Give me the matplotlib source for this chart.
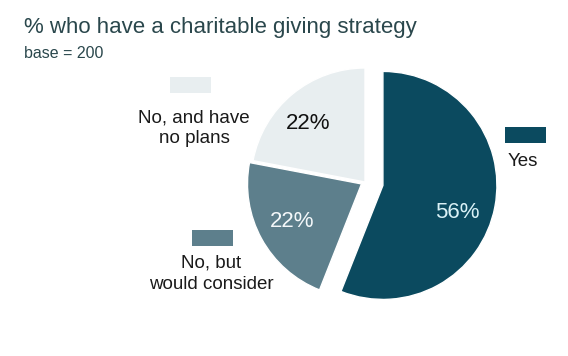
#!/usr/bin/env python3
"""Charitable giving strategy pie chart."""

import matplotlib
matplotlib.use('Agg')
import matplotlib.pyplot as plt
from matplotlib.patches import Rectangle

# data
categories = ['Yes', 'No, but\nwould consider', 'No, and have\nno plans']
shares = [56, 22, 22]
colors = ['#0b4a5f', '#5d7f8c', '#e8eef0']
pct_colors = ['#d9f1f6', '#f4f8fa', '#111111']

W, H = 568, 356


def px(x, y):
    """pixel (from top-left) -> figure fraction"""
    return x / W, 1 - y / H


plt.rcParams['font.family'] = ['Liberation Sans', 'DejaVu Sans']
fig = plt.figure(figsize=(W / 100, H / 100), dpi=100)

# axes covering the whole figure, 1 data unit = pie radius (114 px)
cx, cy, r = 365, 182, 114
ax = fig.add_axes([0, 0, 1, 1])

wedges, texts, autotexts = ax.pie(
    shares, colors=colors, startangle=90, counterclock=False,
    explode=[0.16, 0.035, 0.0], radius=1, center=(0, 0),
    autopct='%d%%', pctdistance=0.69,
    wedgeprops=dict(edgecolor='white', linewidth=1),
    textprops=dict(fontsize=16))
# small nudges (px) so the percentages sit where the original has them
nudges = [(-3, 12), (0, 0), (-7, 2)]
for t, c, (dx, dy) in zip(autotexts, pct_colors, nudges):
    t.set_color(c)
    x, y = t.get_position()
    t.set_position((x + dx / r, y - dy / r))
ax.set_xlim(-cx / r, (W - cx) / r)
ax.set_ylim(-(H - cy) / r, cy / r)
ax.set_aspect('equal')
ax.axis('off')

# title
fig.text(*px(24, 33), '% who have a charitable giving strategy', fontsize=16,
         color='#2a474c', va='baseline', ha='left')
fig.text(*px(24, 58), 'base = 200', fontsize=11.5,
         color='#2a474c', va='baseline', ha='left')

# label keys (box + text) as in the original data labels
keys = [
    # (box x0, box y0, text centre x, first baseline y)
    (505, 127, 523, 166),   # Yes
    (192, 230, 211, 268),   # No, but would consider
    (170, 77, 194, 122),    # No, and have no plans
]
for (bx, by, tx, ty), label, col in zip(keys, categories, colors):
    x0, y1 = px(bx, by + 16)
    fig.patches.append(Rectangle((x0, y1), 41 / W, 16 / H, transform=fig.transFigure,
                                 facecolor=col, edgecolor='none', figure=fig))
    for i, line in enumerate(label.split('\n')):
        fig.text(*px(tx, ty + 21 * i), line, fontsize=13.5, color='#1a1a1a',
                 ha='center', va='baseline')

plt.savefig('out.png', dpi=100, facecolor='white')
plt.close()
